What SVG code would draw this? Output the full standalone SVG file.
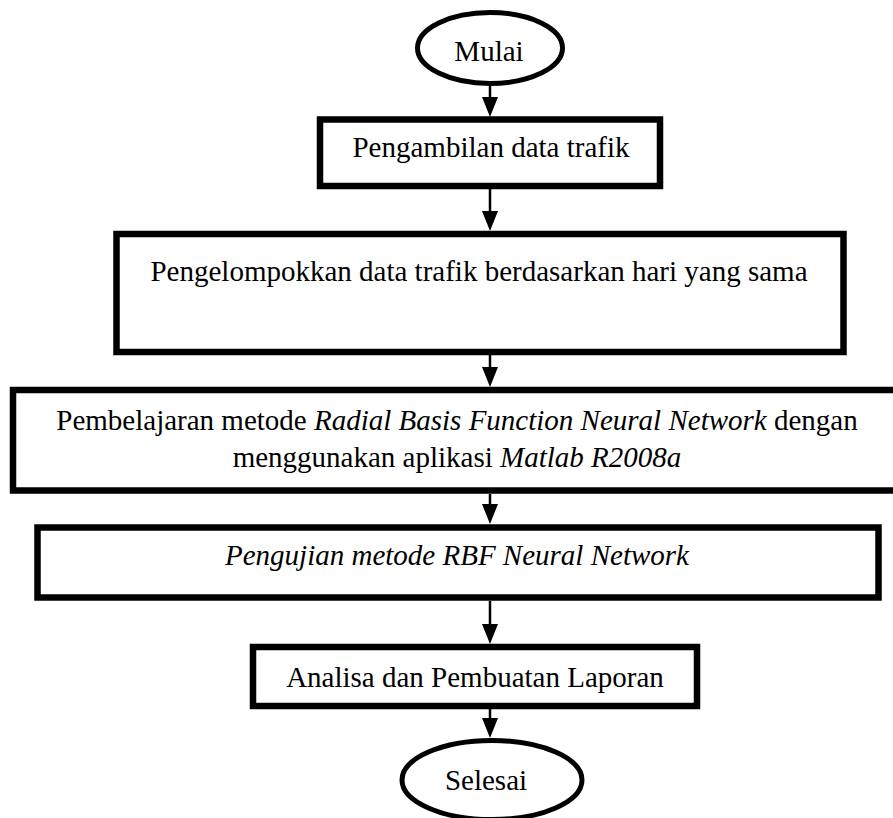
<svg xmlns="http://www.w3.org/2000/svg" width="893" height="818" viewBox="0 0 893 818">
<style>
  .box{fill:#fff;stroke:#000;stroke-width:6.5}
  .term{fill:#fff;stroke:#000;stroke-width:5}
  .t{font-family:"Liberation Serif","Times New Roman",serif;font-size:29px;fill:#000;text-anchor:middle}
  .i{font-style:italic}
  .c{stroke:#000;stroke-width:2.5;fill:none}
  .h{fill:#000}
</style>
<rect width="893" height="818" fill="#fff"/>
<g id="connectors">
  <line class="c" x1="490" y1="86" x2="490" y2="100"/><polygon class="h" points="482,97 498,97 490,117"/>
  <line class="c" x1="490" y1="189" x2="490" y2="214"/><polygon class="h" points="482,211 498,211 490,231"/>
  <line class="c" x1="490" y1="355" x2="490" y2="370"/><polygon class="h" points="482,367 498,367 490,387"/>
  <line class="c" x1="490" y1="494" x2="490" y2="507"/><polygon class="h" points="482,504 498,504 490,524"/>
  <line class="c" x1="490" y1="601" x2="490" y2="627"/><polygon class="h" points="482,624 498,624 490,644"/>
  <line class="c" x1="490" y1="709" x2="490" y2="721"/><polygon class="h" points="482,718 498,718 490,738"/>
</g>
<g id="mulai">
  <ellipse class="term" cx="490" cy="48" rx="72.5" ry="35.5"/>
  <text class="t" x="489" y="61">Mulai</text>
</g>
<g id="pengambilan">
  <rect class="box" x="320" y="119.5" width="340" height="66.5"/>
  <text class="t" x="491" y="157">Pengambilan data trafik</text>
</g>
<g id="pengelompokkan">
  <rect class="box" x="116.5" y="234" width="727" height="118"/>
  <text class="t" x="479" y="281">Pengelompokkan data trafik berdasarkan hari yang sama</text>
</g>
<g id="pembelajaran">
  <rect class="box" x="13" y="390" width="890" height="100.5"/>
  <text class="t" x="457" y="430">Pembelajaran metode <tspan class="i">Radial Basis Function Neural Network</tspan> dengan</text>
  <text class="t" x="457" y="467">menggunakan aplikasi <tspan class="i">Matlab R2008a</tspan></text>
</g>
<g id="pengujian">
  <rect class="box" x="37.5" y="527.5" width="841" height="70"/>
  <text class="t i" x="457" y="565">Pengujian metode RBF Neural Network</text>
</g>
<g id="analisa">
  <rect class="box" x="253" y="647" width="444" height="59"/>
  <text class="t" x="475" y="687">Analisa dan Pembuatan Laporan</text>
</g>
<g id="selesai">
  <ellipse class="term" cx="492" cy="780" rx="90" ry="39.5"/>
  <text class="t" x="486" y="790">Selesai</text>
</g>
</svg>
